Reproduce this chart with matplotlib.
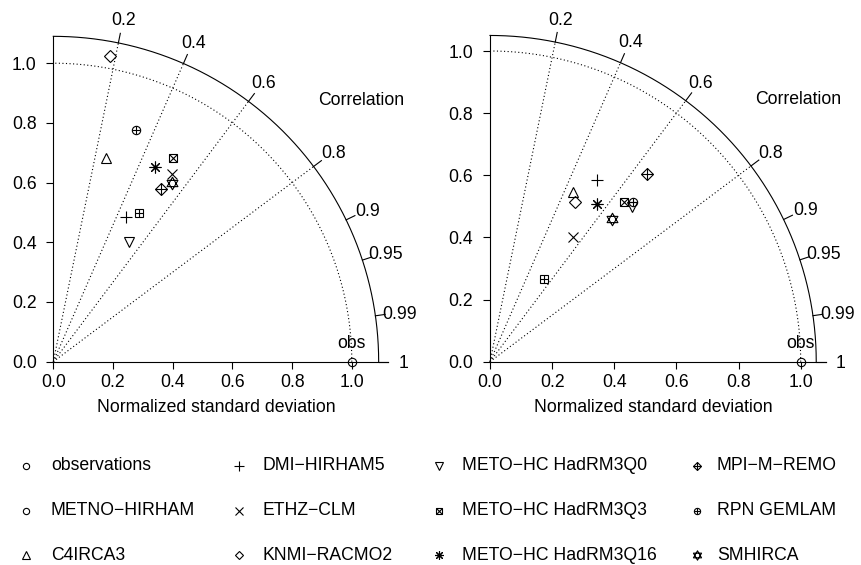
import numpy as np
import matplotlib
matplotlib.use('Agg')
import matplotlib.pyplot as plt
from matplotlib.path import Path

plt.rcParams['font.family'] = ['Liberation Sans', 'DejaVu Sans']

MODELS = ['METNO\u2212HIRHAM', 'C4IRCA3', 'DMI\u2212HIRHAM5', 'ETHZ\u2212CLM',
          'KNMI\u2212RACMO2', 'METO\u2212HC HadRM3Q0', 'METO\u2212HC HadRM3Q3',
          'METO\u2212HC HadRM3Q16', 'MPI\u2212M\u2212REMO', 'RPN GEMLAM', 'SMHIRCA']
SYMBOLS = ['boxplus', 'triangle', 'plus', 'cross', 'diamond', 'down',
           'boxx', 'asterisk', 'diamondplus', 'circleplus', 'star']

# normalized standard deviation and correlation, left and right panel
SD_LEFT = [0.575, 0.704, 0.543, 0.744, 1.042, 0.475, 0.792, 0.736, 0.681, 0.825, 0.720]
COR_LEFT = [0.501, 0.250, 0.451, 0.534, 0.182, 0.535, 0.508, 0.463, 0.530, 0.337, 0.554]
SD_RIGHT = [0.318, 0.609, 0.679, 0.482, 0.584, 0.677, 0.670, 0.613, 0.786, 0.690, 0.604]
COR_RIGHT = [0.551, 0.440, 0.508, 0.552, 0.471, 0.676, 0.643, 0.560, 0.641, 0.669, 0.649]

MAXSD_LEFT = 1.09
MAXSD_RIGHT = 1.05
COR_TICKS = [0.2, 0.4, 0.6, 0.8, 0.9, 0.95, 0.99, 1.0]
COR_TICK_LABELS = ['0.2', '0.4', '0.6', '0.8', '0.9', '0.95', '0.99', '1']
SD_TICKS = [0.0, 0.2, 0.4, 0.6, 0.8, 1.0]

LEGEND_LABELS = ['observations', 'METNO\u2212HIRHAM', 'C4IRCA3',
                 'DMI\u2212HIRHAM5', 'ETHZ\u2212CLM', 'KNMI\u2212RACMO2',
                 'METO\u2212HC HadRM3Q0', 'METO\u2212HC HadRM3Q3', 'METO\u2212HC HadRM3Q16',
                 'MPI\u2212M\u2212REMO', 'RPN GEMLAM', 'SMHIRCA']
LEGEND_SYMBOLS = ['circle', 'circle', 'triangle', 'plus', 'cross', 'diamond',
                  'down', 'boxx', 'asterisk', 'diamondplus', 'circleplus', 'star']

FS = 12.7
LW = 0.8


def hexagram():
    a_up = np.deg2rad([90, 210, 330])
    a_dn = np.deg2rad([270, 30, 150])
    verts = []
    codes = []
    for ang in (a_up, a_dn):
        pts = list(zip(np.cos(ang), np.sin(ang)))
        verts += pts + [pts[0]]
        codes += [Path.MOVETO, Path.LINETO, Path.LINETO, Path.CLOSEPOLY]
    return Path(verts, codes)


STAR = hexagram()

MARKER_PARTS = {
    'circle': [('o', 6)],
    'triangle': [('^', 7)],
    'plus': [('+', 9)],
    'cross': [('x', 7)],
    'diamond': [('D', 6)],
    'down': [('v', 7)],
    'boxx': [('s', 6), ('x', 6)],
    'boxplus': [('s', 6), ('+', 6)],
    'asterisk': [((8, 2, 0), 8.5)],
    'diamondplus': [('D', 6), ('+', 8.5)],
    'circleplus': [('o', 6), ('+', 6)],
    'star': [(STAR, 9)],
}


def draw_marker(ax, x, y, kind, scale=1.0):
    for m, ms in MARKER_PARTS[kind]:
        ax.plot([x], [y], linestyle='none', marker=m, markersize=ms * scale,
                markerfacecolor='none', markeredgecolor='black',
                markeredgewidth=LW, clip_on=False)


def taylor(ax, sds, cors, maxsd):
    dots = (0, (1, 2.2))
    th = np.linspace(0, np.pi / 2, 300)
    # outer arc and sd=1 arc
    ax.plot(maxsd * np.cos(th), maxsd * np.sin(th), color='black', lw=LW, clip_on=False)
    ax.plot(np.cos(th), np.sin(th), color='black', lw=LW, ls=dots, clip_on=False)
    # correlation rays
    for c in [0.2, 0.4, 0.6, 0.8]:
        a = np.arccos(c)
        ax.plot([0, maxsd * np.cos(a)], [0, maxsd * np.sin(a)],
                color='black', lw=LW, ls=dots, clip_on=False)
    # correlation ticks and labels
    for c, lab in zip(COR_TICKS, COR_TICK_LABELS):
        a = np.arccos(c)
        ax.plot([maxsd * np.cos(a), 1.03 * maxsd * np.cos(a)],
                [maxsd * np.sin(a), 1.03 * maxsd * np.sin(a)],
                color='black', lw=LW, clip_on=False)
        ax.text(1.075 * maxsd * np.cos(a), 1.075 * maxsd * np.sin(a), lab,
                ha='center', va='center_baseline', fontsize=FS)
    ax.text(0.945 * maxsd, 0.81 * maxsd, 'Correlation', ha='center',
            va='center_baseline', fontsize=FS)

    # axes lines
    for side in ['top', 'right']:
        ax.spines[side].set_visible(False)
    ax.spines['left'].set_bounds(0, maxsd)
    ax.spines['bottom'].set_bounds(0, 1.03 * maxsd)
    for side in ['left', 'bottom']:
        ax.spines[side].set_linewidth(LW)
    ax.set_xticks(SD_TICKS)
    ax.set_yticks(SD_TICKS)
    ax.set_xticklabels(['%.1f' % v for v in SD_TICKS])
    ax.set_yticklabels(['%.1f' % v for v in SD_TICKS])
    ax.tick_params(axis='both', direction='out', length=5, width=LW, labelsize=FS)
    ax.tick_params(axis='x', pad=4)
    ax.tick_params(axis='y', pad=7)
    ax.annotate('Normalized standard deviation', xy=(maxsd / 2, 0), xytext=(0, -33),
                textcoords='offset points', ha='center', va='center', fontsize=FS)

    # observation point
    draw_marker(ax, 1.0, 0.0, 'circle')
    ax.annotate('obs', xy=(1.0, 0), xytext=(0, 13), textcoords='offset points',
                ha='center', va='center', fontsize=FS)

    for sd, c, sym in zip(sds, cors, SYMBOLS):
        a = np.arccos(c)
        draw_marker(ax, sd * np.cos(a), sd * np.sin(a), sym)


W, H = 861, 565
fig = plt.figure(figsize=(W / 100, H / 100), dpi=100)

# left panel: origin at (53.3, 361.7) px, 298.5 px per unit
s1 = 298.5
ax1 = fig.add_axes([53.3 / W, (H - 361.7) / H, 1.25 * s1 / W, 1.2 * s1 / H])
ax1.set_xlim(0, 1.25)
ax1.set_ylim(0, 1.2)
taylor(ax1, SD_LEFT, COR_LEFT, MAXSD_LEFT)

# right panel: origin at (490, 361.7) px, 310.7 px per unit
s2 = 310.7
ax2 = fig.add_axes([490 / W, (H - 361.7) / H, 1.15 * s2 / W, 1.15 * s2 / H])
ax2.set_xlim(0, 1.15)
ax2.set_ylim(0, 1.15)
taylor(ax2, SD_RIGHT, COR_RIGHT, MAXSD_RIGHT)

# legend, 4 columns x 3 rows, placed in pixel coordinates
leg = fig.add_axes([0, 0, 1, 1])
leg.set_xlim(0, W)
leg.set_ylim(H, 0)
leg.axis('off')
col_x = [26, 239, 439, 697]
text_x = [51, 262, 462, 717]
row_y = [466, 510.5, 555]
for i, (lab, sym) in enumerate(zip(LEGEND_LABELS, LEGEND_SYMBOLS)):
    cy = row_y[i % 3]
    draw_marker(leg, col_x[i // 3], cy, sym, scale=0.75)
    leg.text(text_x[i // 3], cy, lab, ha='left', va='center', fontsize=FS)

fig.savefig('out.png', dpi=100)
